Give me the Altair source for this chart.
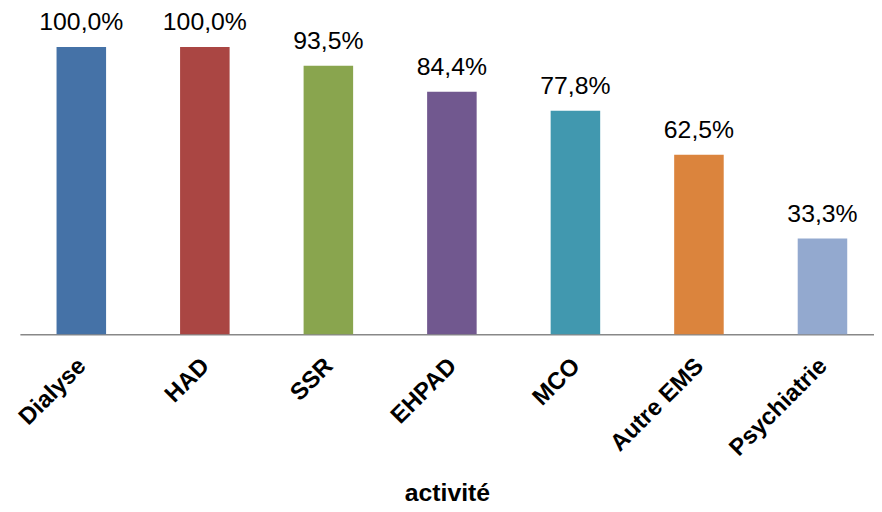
import altair as alt
import pandas as pd

categories = ["Dialyse", "HAD", "SSR", "EHPAD", "MCO", "Autre EMS", "Psychiatrie"]
values = [100.0, 100.0, 93.5, 84.4, 77.8, 62.5, 33.3]
colors = ["#4572A7", "#AA4643", "#89A54E", "#71588F", "#4198AF", "#DB843D", "#93A9CF"]
labels = [f"{v:.1f}".replace(".", ",") + "%" for v in values]

df = pd.DataFrame({"activite": categories, "val": values, "label": labels})

FONT = "Liberation Sans"

base = alt.Chart(df).encode(
    x=alt.X(
        "activite:N",
        sort=categories,
        scale=alt.Scale(paddingInner=0.599, paddingOuter=0.2567, align=0.578),
        axis=alt.Axis(
            title="activité",
            ticks=False,
            domainColor="#888888",
            domainWidth=1.5,
            labelAngle=-45,
            labelAlign="right",
            labelBaseline="middle",
            labelFont=FONT,
            labelFontWeight="bold",
            labelFontSize=24,
            labelColor="#000000",
            labelPadding=28,
            labelOffset=1,
            titleFont=FONT,
            titleFontWeight="bold",
            titleFontSize=25,
            titleColor="#000000",
            titleBaseline="alphabetic",
            titleY=168,
        ),
    )
)

bars = base.mark_bar().encode(
    y=alt.Y("val:Q", scale=alt.Scale(domain=[0, 100]), axis=None),
    color=alt.Color("activite:N", scale=alt.Scale(domain=categories, range=colors), legend=None),
)

text = base.mark_text(dy=-17, baseline="alphabetic", fontSize=25, font=FONT, color="#000000").encode(
    y=alt.Y("val:Q"),
    text="label:N",
)

chart = (
    (bars + text)
    .properties(
        width=862,
        height=290,
        padding={"left": 12, "top": 37, "right": 0, "bottom": 176},
        autosize="none",
    )
    .configure_view(stroke=None)
)

chart.save("out.html", embed_options={"renderer": "svg", "actions": False})
